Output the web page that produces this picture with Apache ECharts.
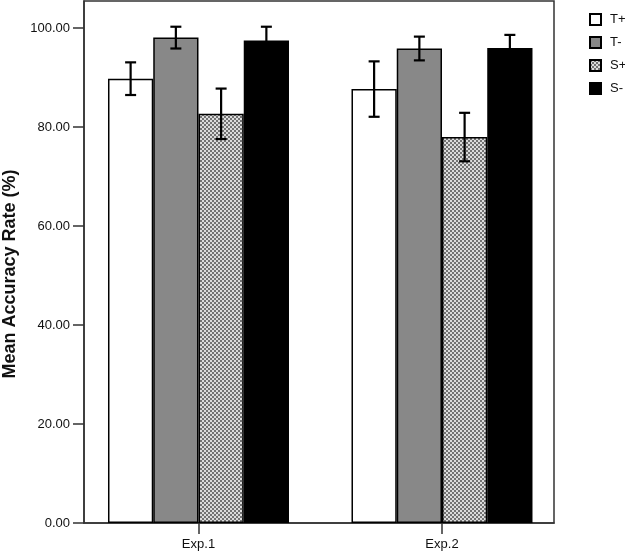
<!DOCTYPE html>
<html>
<head>
<meta charset="utf-8">
<script src="https://cdn.jsdelivr.net/npm/echarts@6/dist/echarts.min.js"></script>
<style>html,body{margin:0;padding:0;background:#fff;}#c{width:625px;height:554px;}</style>
</head>
<body>
<div id="c"></div>
<script>
// ---- data ----
const categories = ['Exp.1', 'Exp.2'];
const seriesNames = ['T+', 'T-', 'S+', 'S-'];
const tPlusMean  = [89.8, 87.7];
const tMinusMean = [98.1, 95.9];
const sPlusMean  = [82.7, 78.0];
const sMinusMean = [97.5, 96.0];
const tPlusErr   = [3.3, 5.6];
const tMinusErr  = [2.2, 2.4];
const sPlusErr   = [5.1, 4.9];
const sMinusErr  = [2.8, 2.65];
const yTicks = [0, 20, 40, 60, 80, 100];

const means = [tPlusMean, tMinusMean, sPlusMean, sMinusMean];
const errs = [tPlusErr, tMinusErr, sPlusErr, sMinusErr];

// ---- style ----
const BAR_W = 45.25;
const FONT = "'Liberation Sans', Arial, Helvetica, sans-serif";

function makePattern() {
  const c = document.createElement('canvas');
  c.width = 4; c.height = 4;
  const g = c.getContext('2d');
  g.fillStyle = '#dcdcdc'; g.fillRect(0, 0, 4, 4);
  g.fillStyle = '#737373';
  g.fillRect(0, 0, 2, 2); g.fillRect(2, 2, 2, 2);
  return c;
}
const fills = ['#ffffff', '#888888', { image: makePattern(), repeat: 'repeat' }, '#000000'];

const chart = echarts.init(document.getElementById('c'), null, { renderer: 'canvas' });

const series = [];
seriesNames.forEach(function (name, si) {
  series.push({
    name: name,
    type: 'bar',
    barWidth: BAR_W,
    barGap: '0%',
    itemStyle: { color: fills[si], borderColor: '#000', borderWidth: 1.5 },
    data: categories.map(function (c, ci) { return [ci + 1, means[si][ci]]; }),
    z: 2
  });
});

const errData = [];
seriesNames.forEach(function (name, si) {
  categories.forEach(function (c, ci) {
    errData.push([ci + 1, means[si][ci] - errs[si][ci], means[si][ci] + errs[si][ci], si]);
  });
});

series.push({
  type: 'custom',
  name: 'err',
  data: errData,
  encode: { x: 0, y: [1, 2] },
  clip: false,
  z: 5,
  renderItem: function (params, api) {
    const x = api.value(0), lo = api.value(1), hi = api.value(2), si = api.value(3);
    const top = api.coord([x, hi]);
    const bot = api.coord([x, lo]);
    const cx = top[0] + (si - 1.5) * BAR_W;
    const hw = 5.5;
    const st = { stroke: '#000', lineWidth: 2.2 };
    return {
      type: 'group',
      children: [
        { type: 'line', shape: { x1: cx, y1: top[1], x2: cx, y2: bot[1] }, style: st },
        { type: 'line', shape: { x1: cx - hw, y1: top[1], x2: cx + hw, y2: top[1] }, style: st },
        { type: 'line', shape: { x1: cx - hw, y1: bot[1], x2: cx + hw, y2: bot[1] }, style: st }
      ]
    };
  }
});

chart.setOption({
  animation: false,
  backgroundColor: '#fff',
  textStyle: { fontFamily: FONT },
  grid: {
    left: 84, right: 71, top: 1, bottom: 31,
    show: true, borderColor: '#333', borderWidth: 1.5, backgroundColor: 'transparent'
  },
  legend: {
    orient: 'vertical',
    left: 589, top: 13,
    padding: 0,
    itemWidth: 11, itemHeight: 11, itemGap: 10,
    icon: 'rect',
    data: seriesNames,
    textStyle: { fontSize: 13, color: '#111', fontFamily: FONT, padding: [0, 0, 0, 4] }
  },
  xAxis: {
    type: 'value',
    min: 0.5298, max: 2.46,
    splitLine: { show: false },
    axisLine: { show: true, lineStyle: { color: '#333', width: 1.5 } },
    axisTick: { show: true, customValues: [1, 2], length: 11, lineStyle: { color: '#333', width: 1.5 } },
    axisLabel: {
      customValues: [1, 2],
      formatter: function (v) { return categories[Math.round(v) - 1] || ''; },
      fontSize: 13, color: '#111', margin: 15, fontFamily: FONT
    }
  },
  yAxis: {
    type: 'value',
    min: 0, max: 105.5, interval: 20,
    splitLine: { show: false },
    axisLine: { show: true, lineStyle: { color: '#333', width: 1.5 } },
    axisTick: { show: true, customValues: yTicks, length: 11, lineStyle: { color: '#333', width: 1.5 } },
    axisLabel: {
      customValues: yTicks,
      formatter: function (v) { return v.toFixed(2); },
      fontSize: 13, color: '#111', margin: 14, fontFamily: FONT
    }
  },
  graphic: [{
    type: 'text',
    x: 10, y: 274,
    rotation: Math.PI / 2,
    style: {
      text: 'Mean Accuracy Rate (%)',
      fontSize: 18, fontWeight: 'bold', fill: '#111', fontFamily: FONT,
      align: 'center', verticalAlign: 'middle'
    }
  }],
  series: series
});
</script>
</body>
</html>
